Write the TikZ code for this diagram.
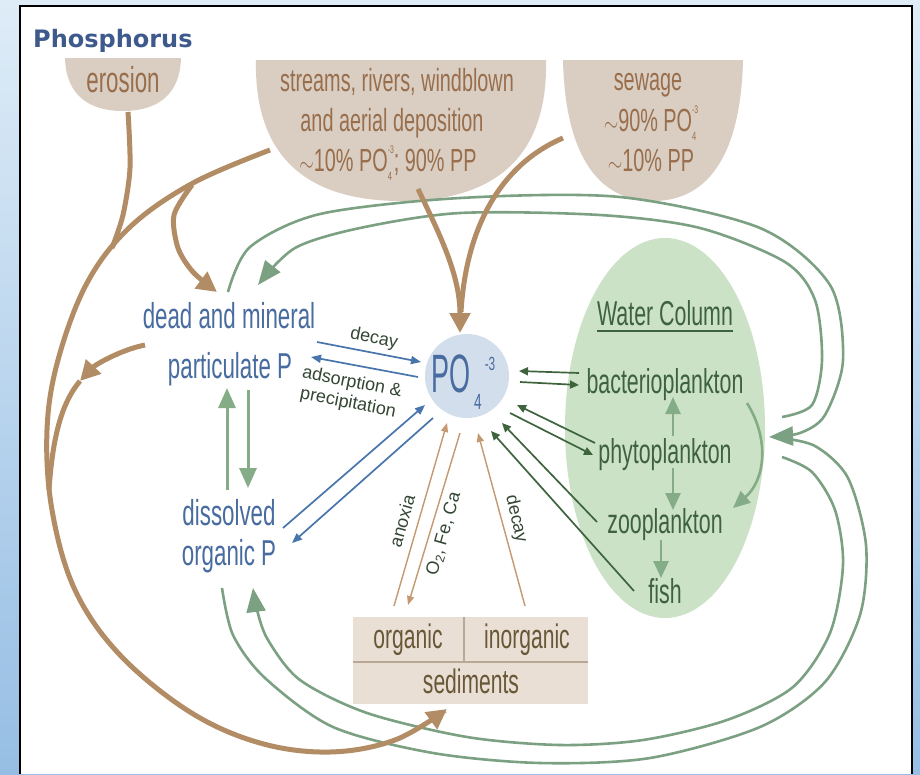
\documentclass[tikz,border=0pt]{standalone}
\usepackage{graphicx}
\usepackage{fontspec}
\setmainfont{Liberation Sans}
\newfontfamily\condfont[FakeStretch=0.62]{Liberation Sans}
\newfontfamily\pofont[FakeStretch=0.5]{Liberation Sans}
\newfontfamily\titlefont{DejaVu Sans}
\usetikzlibrary{arrows.meta}

\definecolor{bgtop}{RGB}{222,236,247}
\definecolor{bgbot}{RGB}{150,190,228}
\definecolor{titleblue}{RGB}{62,90,140}
\definecolor{bowlfill}{RGB}{218,206,194}
\definecolor{bowltxt}{RGB}{152,110,76}
\definecolor{brownln}{RGB}{178,140,100}
\definecolor{sedfill}{RGB}{233,223,213}
\definecolor{sedline}{RGB}{185,168,148}
\definecolor{sedtxt}{RGB}{105,88,55}
\definecolor{sedarr}{RGB}{196,152,112}
\definecolor{ptxt}{RGB}{72,108,160}
\definecolor{parr}{RGB}{72,118,172}
\definecolor{pofill}{RGB}{210,222,236}
\definecolor{wcfill}{RGB}{203,226,198}
\definecolor{wctxt}{RGB}{62,98,62}
\definecolor{darkgr}{RGB}{62,100,62}
\definecolor{midgr}{RGB}{132,172,134}
\definecolor{loopgr}{RGB}{124,160,130}
\definecolor{smalltxt}{RGB}{52,70,52}

% stacked sub/superscript for PO4, and a wide tilde
\newcommand{\chem}[2]{\makebox[0pt][l]{\raisebox{-0.3em}{\fontsize{12}{12}\selectfont#1}}\raisebox{0.55em}{\fontsize{11}{11}\selectfont#2}}
\newcommand{\approxsign}{\scalebox{0.75}[1]{$\sim$}}

\begin{document}
\begin{tikzpicture}[x=1pt,y=-1pt,
  lbl/.style={inner sep=0pt,anchor=base},
  bowltext/.style={lbl,text=bowltxt,font=\condfont\fontsize{32}{32}\selectfont},
  ptext/.style={lbl,text=ptxt,font=\condfont\fontsize{36}{36}\selectfont},
  wctext/.style={lbl,text=wctxt,font=\condfont\fontsize{34.5}{34.5}\selectfont},
  sedtext/.style={lbl,text=sedtxt,font=\condfont\fontsize{34}{34}\selectfont},
  small/.style={inner sep=0pt,text=smalltxt,font=\fontsize{18}{21}\selectfont,align=center},
  bowl/.style={fill=bowlfill},
  brownpath/.style={draw=brownln,line width=5pt},
  brownarr/.style={brownpath,-{Triangle[length=20pt,width=20pt]}},
  bluearr/.style={draw=parr,line width=1.7pt,-{Triangle[length=10pt,width=8pt]}},
  thinarr/.style={draw=darkgr,line width=1.7pt,-{Triangle[length=9pt,width=8pt]}},
  sedarrow/.style={draw=sedarr,line width=1.4pt,-{Triangle[length=9pt,width=7pt]}},
  bigarr/.style={draw=midgr,line width=3pt,-{Triangle[length=20pt,width=17pt]}},
  wcarr/.style={draw=midgr,line width=2.6pt,-{Triangle[length=17pt,width=15pt]}},
  looppath/.style={draw=loopgr,line width=2.6pt},
  looparr/.style={looppath,-{Triangle[length=24pt,width=19pt]}}]
  \useasboundingbox (0,0) rectangle (920,774);
  % frame
  \shade[top color=bgtop,bottom color=bgbot] (0,0) rectangle (920,774);
  \fill[white] (20,6) rectangle (912,774);
  \draw[line width=2pt] (20,774) -- (20,6) -- (912,6) -- (912,774);
  \node[lbl,anchor=base west,text=titleblue,font=\titlefont\bfseries\fontsize{24}{24}\selectfont] (title) at (33,47) {Phosphorus};

  % sources
  \fill[bowl] (65,58) .. controls (66,96) and (90,111) .. (123,111) .. controls (156,111) and (180,96) .. (181,58) -- cycle;
  \fill[bowl] (256,60) .. controls (254,150) and (300,201) .. (401,201) .. controls (502,201) and (548,150) .. (546,60) -- cycle;
  \fill[bowl] (563,60) .. controls (565,150) and (595,201) .. (653,201) .. controls (711,201) and (741,150) .. (743,60) -- cycle;

  % water column, sediments, PO4
  \fill[wcfill] (665,428) ellipse [x radius=100, y radius=190];
  \fill[sedfill] (353,617) rectangle (588,704);
  \draw[sedline,line width=1.2pt] (353,662) -- (588,662);
  \draw[sedline,line width=1.2pt] (464,617) -- (464,662);
  \node[circle,fill=pofill,minimum size=84pt,inner sep=0pt] (po4) at (467,376) {};

  \coordinate (eroOut) at (128,112);
  \coordinate (strOut) at (270,150);
  \coordinate (strDown) at (418,189);
  \coordinate (sewOut) at (563,138);
  \coordinate (poTop) at (460,333);
  \coordinate (sedIn) at (447,709);
  \coordinate (deadIn) at (217,292);
  \coordinate (partOut) at (145,345);
  \coordinate (partTip) at (80,381);

  % green loops
  \draw[looparr] plot[smooth] coordinates {(228,292) (250,247) (320,214) (460,198) (620,197) (760,228) (830,285) (843,360) (825,415) (800,433) (769,437)};
  \draw[looparr] plot[smooth] coordinates {(782,417) (812,405) (822,360) (815,300) (785,262) (700,228) (600,215) (460,213) (360,228) (295,248) (258,285)};
  \draw[looppath] plot[smooth] coordinates {(222,588) (233,635) (265,678) (333,727) (433,753) (540,763) (650,758) (760,727) (825,682) (860,615) (866,545) (848,478) (815,446) (775,437)};
  \draw[looparr] plot[smooth] coordinates {(782,457) (812,472) (835,510) (843,565) (830,633) (793,687) (727,720) (643,740) (560,745) (467,737) (367,713) (300,680) (268,640) (257,610) (253,588)};

  % brown inputs
  \draw[brownarr] plot[smooth,tension=0.6] coordinates {(strOut) (193,183) (130,227) (87,283) (58,360) (47,430) (52,510) (75,590) (120,655) (190,712) (260,743) (330,752) (395,740) (sedIn)};
  \draw[brownpath] plot[smooth] coordinates {(eroOut) (130,168) (123,215) (112,248)};
  \draw[brownarr] plot[smooth] coordinates {(192,185) (174,215) (178,248) (193,272) (deadIn)};
  \draw[brownarr] (partOut) .. controls (120,350) and (95,365) .. (partTip);
  \draw[brownpath] (partTip) .. controls (64,400) and (53,430) .. (49,490);
  \draw[brownarr] (strDown) .. controls (440,235) and (460,275) .. (poTop);
  \draw[brownpath] (sewOut) .. controls (500,165) and (466,228) .. (461,312);

  % exchanges with PO4
  \coordinate (b1) at (317,342);  \coordinate (b2) at (421,362);
  \coordinate (b3) at (418,377);  \coordinate (b4) at (311,357);
  \coordinate (b5) at (283,528);  \coordinate (b6) at (425,405);
  \coordinate (b7) at (433,418);  \coordinate (b8) at (292,543);
  \draw[bluearr] (b1) -- (b2);
  \draw[bluearr] (b3) -- (b4);
  \draw[bluearr] (b5) -- (b6);
  \draw[bluearr] (b7) -- (b8);

  \coordinate (g1) at (579,373);  \coordinate (g2) at (519,371);
  \coordinate (g3) at (520,382);  \coordinate (g4) at (579,385);
  \coordinate (g5) at (595,443);  \coordinate (g6) at (517,405);
  \coordinate (g7) at (510,413);  \coordinate (g8) at (593,455);
  \coordinate (g9) at (597,522);  \coordinate (g10) at (502,423);
  \coordinate (g11) at (634,591); \coordinate (g12) at (491,431);
  \draw[thinarr] (g1) -- (g2);
  \draw[thinarr] (g3) -- (g4);
  \draw[thinarr] (g5) -- (g6);
  \draw[thinarr] (g7) -- (g8);
  \draw[thinarr] (g9) -- (g10);
  \draw[thinarr] (g11) -- (g12);

  \coordinate (s1) at (394,606);  \coordinate (s2) at (447,423);
  \coordinate (s3) at (460,433);  \coordinate (s4) at (408,605);
  \coordinate (s5) at (525,606);  \coordinate (s6) at (478,433);
  \draw[sedarrow] (s1) -- (s2);
  \draw[sedarrow] (s3) -- (s4);
  \draw[sedarrow] (s5) -- (s6);

  \coordinate (d1) at (227,490);  \coordinate (d2) at (227,388);
  \coordinate (d3) at (248,390);  \coordinate (d4) at (248,488);
  \draw[bigarr] (d1) -- (d2);
  \draw[bigarr] (d3) -- (d4);

  \coordinate (w1) at (673,436);  \coordinate (w2) at (673,397);
  \coordinate (w3) at (673,468);  \coordinate (w4) at (673,510);
  \coordinate (w5) at (661,540);  \coordinate (w6) at (661,578);
  \coordinate (w7) at (747,403);  \coordinate (w8) at (733,508);
  \draw[wcarr] (w1) -- (w2);
  \draw[wcarr] (w3) -- (w4);
  \draw[wcarr] (w5) -- (w6);
  \draw[wcarr] (w7) .. controls (770,440) and (765,480) .. (w8);

  % texts
  \node[bowltext,font=\condfont\fontsize{36}{36}\selectfont] (ero) at (123,92) {erosion};
  \node[bowltext] (str1) at (397,91) {streams, rivers, windblown};
  \node[bowltext] (str2) at (392,131) {and aerial deposition};
  \node[bowltext] (str3) at (388,171) {\approxsign10\% PO\chem{4}{-3}; 90\% PP};
  \node[bowltext] (sew1) at (648,90) {sewage};
  \node[bowltext] (sew2) at (651,131) {\approxsign90\% PO\chem{4}{-3}};
  \node[bowltext] (sew3) at (651,171) {\approxsign10\% PP};

  \node[ptext] (dead1) at (229,328) {dead and mineral};
  \node[ptext] (dead2) at (230,378) {particulate P};
  \node[ptext] (diss1) at (229,525) {dissolved};
  \node[ptext] (diss2) at (229,565) {organic P};

  \node[lbl,text=ptxt,font=\pofont\fontsize{54}{54}\selectfont] (potxt) at (451,392) {PO};
  \node[lbl,text=ptxt,font=\condfont\fontsize{22}{22}\selectfont] (posub) at (478,409) {4};
  \node[lbl,text=ptxt,font=\condfont\fontsize{19}{19}\selectfont] (posup) at (490,370) {-3};

  \node[wctext] (wc) at (665,325) {Water Column};
  \draw[wctxt,line width=1.6pt] ([yshift=-6pt]wc.base west) -- ([yshift=-6pt]wc.base east);
  \node[wctext] (bact) at (665,393) {bacterioplankton};
  \node[wctext] (phyto) at (665,463) {phytoplankton};
  \node[wctext] (zoo) at (665,533) {zooplankton};
  \node[wctext] (fish) at (665,603) {fish};

  \node[sedtext] (org) at (408,648) {organic};
  \node[sedtext] (inorg) at (527,648) {inorganic};
  \node[sedtext] (sed) at (471,693) {sediments};

  \node[small,rotate=-11] (decay1) at (374,339) {decay};
  \node[small,rotate=-11] (adsorb) at (350,393) {adsorption \&\\precipitation};
  \node[small,rotate=74] (anox) at (402,521) {anoxia};
  \node[small,rotate=74] (oxfe) at (444,534) {O\textsubscript{2}, Fe, Ca};
  \node[small,rotate=-77] (decay2) at (516,519) {decay};
\end{tikzpicture}
\end{document}
